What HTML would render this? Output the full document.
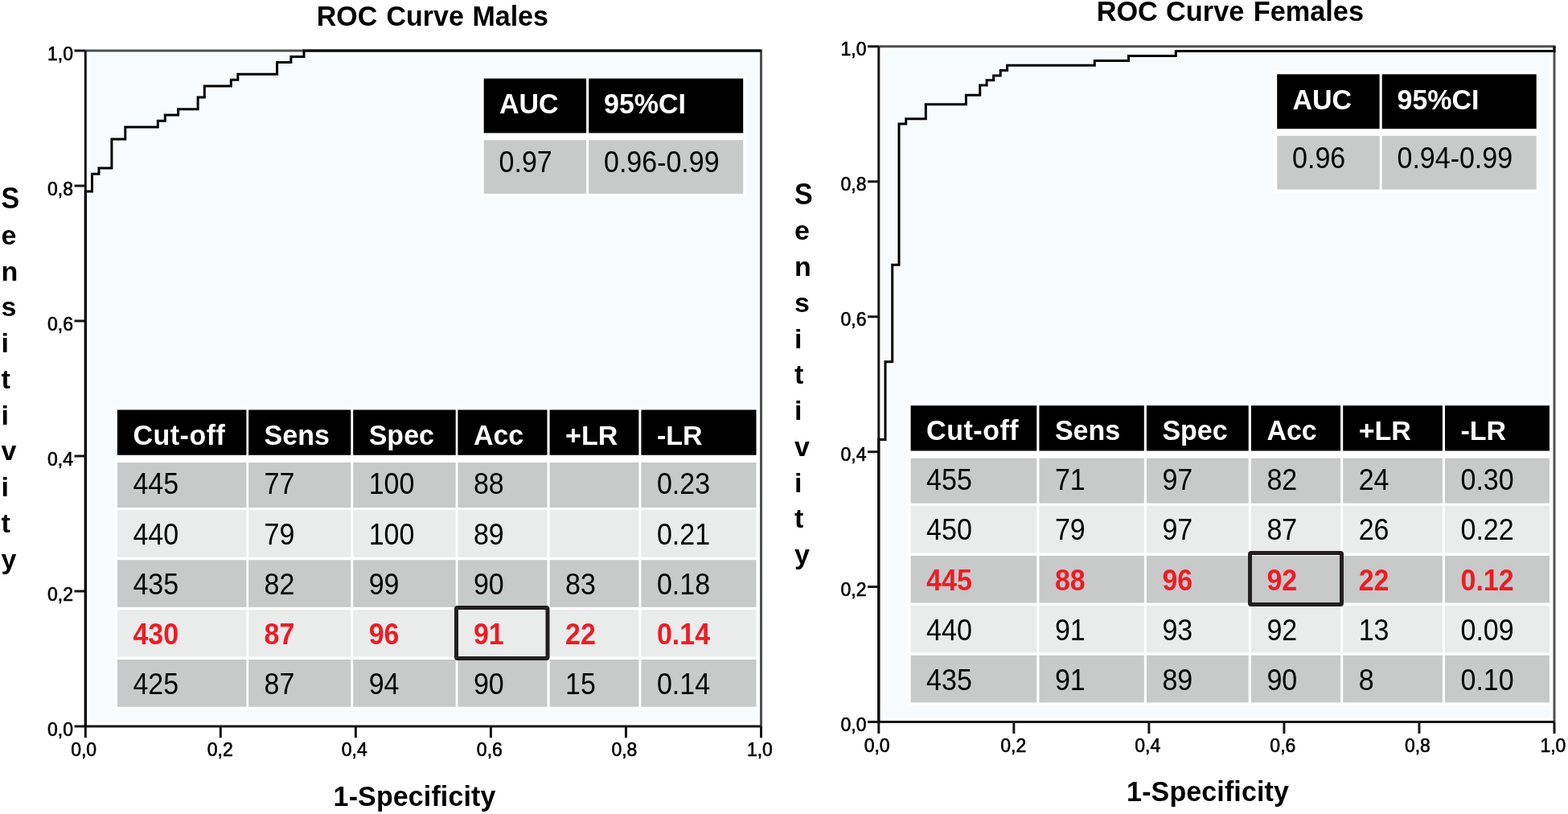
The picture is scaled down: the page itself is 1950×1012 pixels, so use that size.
<!DOCTYPE html>
<html><head><meta charset="utf-8"><title>ROC Curves</title>
<style>
html,body{margin:0;padding:0;background:#fff;width:1950px;height:1012px;overflow:hidden}
svg{display:block}
text{font-family:"Liberation Sans", Arial, sans-serif}
.tk{font-size:23px;fill:#000;stroke:#000;stroke-width:0.6px}
.hb{font-size:34px;font-weight:bold;fill:#fff}
.tb{font-size:34px;fill:#000}
.tr{font-size:34px;font-weight:bold;fill:#ed1c24}
.ti{font-size:34px;font-weight:bold;fill:#000}
</style></head><body>
<svg width="1950" height="1012" viewBox="0 0 1950 1012">
<rect width="1950" height="1012" fill="#fff"/>
<g>
<rect x="112" y="68" width="829" height="829.5" fill="#f8fbfe"/>
<path d="M106.3 63.0H946.5V902.9" fill="none" stroke="#4e5050" stroke-width="3"/>
<path d="M106.3 63.0V902.9H946.5" fill="none" stroke="#161616" stroke-width="3"/>
<path d="M92.5 902.90H106.3 M106.30 902.9V917.2 M92.5 734.92H106.3 M274.34 902.9V917.2 M92.5 566.94H106.3 M442.38 902.9V917.2 M92.5 398.96H106.3 M610.42 902.9V917.2 M92.5 230.98H106.3 M778.46 902.9V917.2 M92.5 63.00H106.3 M946.50 902.9V917.2" stroke="#161616" stroke-width="3" fill="none"/>
<text transform="matrix(1 0 0 1.08 91.00 914.80)" class="tk" text-anchor="end">0,0</text>
<text transform="matrix(1 0 0 1.08 104.10 940.20)" class="tk" text-anchor="middle">0,0</text>
<text transform="matrix(1 0 0 1.08 91.00 746.82)" class="tk" text-anchor="end">0,2</text>
<text transform="matrix(1 0 0 1.08 273.74 940.20)" class="tk" text-anchor="middle">0,2</text>
<text transform="matrix(1 0 0 1.08 91.00 578.84)" class="tk" text-anchor="end">0,4</text>
<text transform="matrix(1 0 0 1.08 440.78 940.20)" class="tk" text-anchor="middle">0,4</text>
<text transform="matrix(1 0 0 1.08 91.00 410.86)" class="tk" text-anchor="end">0,6</text>
<text transform="matrix(1 0 0 1.08 608.82 940.20)" class="tk" text-anchor="middle">0,6</text>
<text transform="matrix(1 0 0 1.08 91.00 242.88)" class="tk" text-anchor="end">0,8</text>
<text transform="matrix(1 0 0 1.08 776.36 940.20)" class="tk" text-anchor="middle">0,8</text>
<text transform="matrix(1 0 0 1.08 91.00 74.90)" class="tk" text-anchor="end">1,0</text>
<text transform="matrix(1 0 0 1.08 944.90 940.20)" class="tk" text-anchor="middle">1,0</text>
<path d="M106.30 902.70 L106.30 238.00 L114.50 238.00 L114.50 216.30 L123.00 216.30 L123.00 209.00 L138.90 209.00 L138.90 173.00 L155.80 173.00 L155.80 158.00 L196.30 158.00 L196.30 150.30 L205.30 150.30 L205.30 143.10 L221.60 143.10 L221.60 135.80 L246.10 135.80 L246.10 121.00 L254.30 121.00 L254.30 106.90 L287.30 106.90 L287.30 99.20 L295.80 99.20 L295.80 92.30 L344.60 92.30 L344.60 77.50 L361.90 77.50 L361.90 70.40 L378.00 70.40 L378.00 63.00 L946.50 63.00" fill="none" stroke="#000" stroke-width="3" stroke-linejoin="miter"/>
<rect x="598.1" y="94" width="329.4" height="150.8" fill="#fff"/>
<rect x="601.7" y="97.6" width="127.4" height="67.8" fill="#000"/>
<rect x="732.2" y="97.6" width="192" height="67.8" fill="#000"/>
<rect x="601.7" y="174.2" width="127.4" height="66.6" fill="#c8c9c9"/>
<rect x="732.2" y="174.2" width="192" height="66.6" fill="#c8c9c9"/>
<text transform="matrix(1 0 0 1.05 621.00 140.80)" class="hb">AUC</text>
<text transform="matrix(1 0 0 1.05 751.00 140.80)" class="hb">95%CI</text>
<text transform="matrix(1 0 0 1.065 620.60 214.00)" class="tb">0.97</text>
<text transform="matrix(1 0 0 1.065 751.00 214.00)" class="tb">0.96-0.99</text>
<rect x="142.8" y="506.4" width="800.9" height="375.3" fill="#fff"/>
<rect x="145.9" y="509.5" width="160.50" height="56.30" fill="#000"/>
<rect x="309.1" y="509.5" width="127.20" height="56.30" fill="#000"/>
<rect x="439.2" y="509.5" width="127.50" height="56.30" fill="#000"/>
<rect x="569.4" y="509.5" width="111.10" height="56.30" fill="#000"/>
<rect x="683.6" y="509.5" width="110.80" height="56.30" fill="#000"/>
<rect x="797.4" y="509.5" width="143.10" height="56.30" fill="#000"/>
<rect x="145.9" y="575" width="160.50" height="56.00" fill="#c8c9c9"/>
<rect x="309.1" y="575" width="127.20" height="56.00" fill="#c8c9c9"/>
<rect x="439.2" y="575" width="127.50" height="56.00" fill="#c8c9c9"/>
<rect x="569.4" y="575" width="111.10" height="56.00" fill="#c8c9c9"/>
<rect x="683.6" y="575" width="110.80" height="56.00" fill="#c8c9c9"/>
<rect x="797.4" y="575" width="143.10" height="56.00" fill="#c8c9c9"/>
<rect x="145.9" y="634" width="160.50" height="58.80" fill="#eaebeb"/>
<rect x="309.1" y="634" width="127.20" height="58.80" fill="#eaebeb"/>
<rect x="439.2" y="634" width="127.50" height="58.80" fill="#eaebeb"/>
<rect x="569.4" y="634" width="111.10" height="58.80" fill="#eaebeb"/>
<rect x="683.6" y="634" width="110.80" height="58.80" fill="#eaebeb"/>
<rect x="797.4" y="634" width="143.10" height="58.80" fill="#eaebeb"/>
<rect x="145.9" y="696.2" width="160.50" height="58.60" fill="#c8c9c9"/>
<rect x="309.1" y="696.2" width="127.20" height="58.60" fill="#c8c9c9"/>
<rect x="439.2" y="696.2" width="127.50" height="58.60" fill="#c8c9c9"/>
<rect x="569.4" y="696.2" width="111.10" height="58.60" fill="#c8c9c9"/>
<rect x="683.6" y="696.2" width="110.80" height="58.60" fill="#c8c9c9"/>
<rect x="797.4" y="696.2" width="143.10" height="58.60" fill="#c8c9c9"/>
<rect x="145.9" y="758.2" width="160.50" height="58.40" fill="#eaebeb"/>
<rect x="309.1" y="758.2" width="127.20" height="58.40" fill="#eaebeb"/>
<rect x="439.2" y="758.2" width="127.50" height="58.40" fill="#eaebeb"/>
<rect x="569.4" y="758.2" width="111.10" height="58.40" fill="#eaebeb"/>
<rect x="683.6" y="758.2" width="110.80" height="58.40" fill="#eaebeb"/>
<rect x="797.4" y="758.2" width="143.10" height="58.40" fill="#eaebeb"/>
<rect x="145.9" y="820" width="160.50" height="58.70" fill="#c8c9c9"/>
<rect x="309.1" y="820" width="127.20" height="58.70" fill="#c8c9c9"/>
<rect x="439.2" y="820" width="127.50" height="58.70" fill="#c8c9c9"/>
<rect x="569.4" y="820" width="111.10" height="58.70" fill="#c8c9c9"/>
<rect x="683.6" y="820" width="110.80" height="58.70" fill="#c8c9c9"/>
<rect x="797.4" y="820" width="143.10" height="58.70" fill="#c8c9c9"/>
<text transform="matrix(1 0 0 1.04 165.40 552.60)" class="hb" textLength="114.5" lengthAdjust="spacing">Cut-off</text>
<text transform="matrix(1 0 0 1.04 328.60 552.60)" class="hb">Sens</text>
<text transform="matrix(1 0 0 1.04 458.70 552.60)" class="hb">Spec</text>
<text transform="matrix(1 0 0 1.04 588.90 552.60)" class="hb">Acc</text>
<text x="703.10" y="552.60" class="hb">+LR</text>
<text x="816.90" y="552.60" class="hb">-LR</text>
<text transform="matrix(1 0 0 1.08 165.40 614.30)" class="tb">445</text>
<text transform="matrix(1 0 0 1.08 328.60 614.30)" class="tb">77</text>
<text transform="matrix(1 0 0 1.08 458.70 614.30)" class="tb">100</text>
<text transform="matrix(1 0 0 1.08 588.90 614.30)" class="tb">88</text>
<text transform="matrix(1 0 0 1.08 816.90 614.30)" class="tb">0.23</text>
<text transform="matrix(1 0 0 1.08 165.40 676.70)" class="tb">440</text>
<text transform="matrix(1 0 0 1.08 328.60 676.70)" class="tb">79</text>
<text transform="matrix(1 0 0 1.08 458.70 676.70)" class="tb">100</text>
<text transform="matrix(1 0 0 1.08 588.90 676.70)" class="tb">89</text>
<text transform="matrix(1 0 0 1.08 816.90 676.70)" class="tb">0.21</text>
<text transform="matrix(1 0 0 1.08 165.40 738.90)" class="tb">435</text>
<text transform="matrix(1 0 0 1.08 328.60 738.90)" class="tb">82</text>
<text transform="matrix(1 0 0 1.08 458.70 738.90)" class="tb">99</text>
<text transform="matrix(1 0 0 1.08 588.90 738.90)" class="tb">90</text>
<text transform="matrix(1 0 0 1.08 703.10 738.90)" class="tb">83</text>
<text transform="matrix(1 0 0 1.08 816.90 738.90)" class="tb">0.18</text>
<text transform="matrix(1 0 0 1.08 165.40 801.00)" class="tr">430</text>
<text transform="matrix(1 0 0 1.08 328.60 801.00)" class="tr">87</text>
<text transform="matrix(1 0 0 1.08 458.70 801.00)" class="tr">96</text>
<text transform="matrix(1 0 0 1.08 588.90 801.00)" class="tr">91</text>
<text transform="matrix(1 0 0 1.08 703.10 801.00)" class="tr">22</text>
<text transform="matrix(1 0 0 1.08 816.90 801.00)" class="tr">0.14</text>
<text transform="matrix(1 0 0 1.08 165.40 863.20)" class="tb">425</text>
<text transform="matrix(1 0 0 1.08 328.60 863.20)" class="tb">87</text>
<text transform="matrix(1 0 0 1.08 458.70 863.20)" class="tb">94</text>
<text transform="matrix(1 0 0 1.08 588.90 863.20)" class="tb">90</text>
<text transform="matrix(1 0 0 1.08 703.10 863.20)" class="tb">15</text>
<text transform="matrix(1 0 0 1.08 816.90 863.20)" class="tb">0.14</text>
<rect x="567.5" y="755.5" width="113.5" height="63" rx="1.5" fill="none" stroke="#231f20" stroke-width="5"/>
<text transform="matrix(1 0 0 1.03 393.80 32.40)" class="ti" style="font-size:34px">ROC<tspan dx="1.7"> Curve</tspan><tspan dx="1.2"> Males</tspan></text>
<text transform="matrix(1 0 0 1.05 414.60 1001.50)" class="ti" textLength="201.8" lengthAdjust="spacing">1-Specificity</text>
<text transform="matrix(1 0 0 1.1 1.50 259.00)" class="ti">S</text>
<text x="1.50" y="303.75" class="ti">e</text>
<text x="1.50" y="348.50" class="ti">n</text>
<text x="1.50" y="393.25" class="ti">s</text>
<text x="1.50" y="438.00" class="ti">i</text>
<text x="1.50" y="482.75" class="ti">t</text>
<text x="1.50" y="527.50" class="ti">i</text>
<text x="1.50" y="572.25" class="ti">v</text>
<text x="1.50" y="617.00" class="ti">i</text>
<text x="1.50" y="661.75" class="ti">t</text>
<text x="1.50" y="706.50" class="ti">y</text>
</g>
<g transform="translate(986.5,-5.3)">
<rect x="112" y="68" width="829" height="829.5" fill="#f8fbfe"/>
<path d="M106.3 63.0H946.5V902.9" fill="none" stroke="#4e5050" stroke-width="3"/>
<path d="M106.3 63.0V902.9H946.5" fill="none" stroke="#161616" stroke-width="3"/>
<path d="M92.5 902.90H106.3 M106.30 902.9V917.2 M92.5 734.92H106.3 M274.34 902.9V917.2 M92.5 566.94H106.3 M442.38 902.9V917.2 M92.5 398.96H106.3 M610.42 902.9V917.2 M92.5 230.98H106.3 M778.46 902.9V917.2 M92.5 63.00H106.3 M946.50 902.9V917.2" stroke="#161616" stroke-width="3" fill="none"/>
<text transform="matrix(1 0 0 1.08 91.00 914.10)" class="tk" text-anchor="end">0,0</text>
<text transform="matrix(1 0 0 1.08 104.10 940.20)" class="tk" text-anchor="middle">0,0</text>
<text transform="matrix(1 0 0 1.08 91.00 746.12)" class="tk" text-anchor="end">0,2</text>
<text transform="matrix(1 0 0 1.08 273.74 940.20)" class="tk" text-anchor="middle">0,2</text>
<text transform="matrix(1 0 0 1.08 91.00 578.14)" class="tk" text-anchor="end">0,4</text>
<text transform="matrix(1 0 0 1.08 440.78 940.20)" class="tk" text-anchor="middle">0,4</text>
<text transform="matrix(1 0 0 1.08 91.00 410.16)" class="tk" text-anchor="end">0,6</text>
<text transform="matrix(1 0 0 1.08 608.82 940.20)" class="tk" text-anchor="middle">0,6</text>
<text transform="matrix(1 0 0 1.08 91.00 242.18)" class="tk" text-anchor="end">0,8</text>
<text transform="matrix(1 0 0 1.08 776.36 940.20)" class="tk" text-anchor="middle">0,8</text>
<text transform="matrix(1 0 0 1.08 91.00 74.20)" class="tk" text-anchor="end">1,0</text>
<text transform="matrix(1 0 0 1.08 944.90 940.20)" class="tk" text-anchor="middle">1,0</text>
<path d="M106.30 902.60 L106.30 551.70 L114.50 551.70 L114.50 455.10 L123.20 455.10 L123.20 334.50 L131.50 334.50 L131.50 159.30 L140.20 159.30 L140.20 153.10 L164.80 153.10 L164.80 135.00 L214.90 135.00 L214.90 123.60 L232.20 123.60 L232.20 111.20 L240.60 111.20 L240.60 105.10 L249.10 105.10 L249.10 99.20 L257.70 99.20 L257.70 92.80 L266.10 92.80 L266.10 86.50 L374.80 86.50 L374.80 80.80 L417.00 80.80 L417.00 74.70 L475.80 74.70 L475.80 68.90 L946.50 68.90 L946.50 62.80" fill="none" stroke="#000" stroke-width="3" stroke-linejoin="miter"/>
<rect x="598.1" y="94" width="329.4" height="150.8" fill="#fff"/>
<rect x="601.7" y="97.6" width="127.4" height="67.8" fill="#000"/>
<rect x="732.2" y="97.6" width="192" height="67.8" fill="#000"/>
<rect x="601.7" y="174.2" width="127.4" height="66.6" fill="#c8c9c9"/>
<rect x="732.2" y="174.2" width="192" height="66.6" fill="#c8c9c9"/>
<text transform="matrix(1 0 0 1.05 621.00 140.80)" class="hb">AUC</text>
<text transform="matrix(1 0 0 1.05 751.00 140.80)" class="hb">95%CI</text>
<text transform="matrix(1 0 0 1.065 620.60 214.00)" class="tb">0.96</text>
<text transform="matrix(1 0 0 1.065 751.00 214.00)" class="tb">0.94-0.99</text>
<rect x="142.8" y="506.4" width="800.9" height="375.3" fill="#fff"/>
<rect x="146.1" y="509.5" width="156.70" height="56.30" fill="#000"/>
<rect x="305.9" y="509.5" width="130.40" height="56.30" fill="#000"/>
<rect x="439.4" y="509.5" width="126.80" height="56.30" fill="#000"/>
<rect x="569.4" y="509.5" width="111.20" height="56.30" fill="#000"/>
<rect x="683.7" y="509.5" width="123.70" height="56.30" fill="#000"/>
<rect x="810.5" y="509.5" width="130.00" height="56.30" fill="#000"/>
<rect x="146.1" y="575" width="156.70" height="56.00" fill="#c8c9c9"/>
<rect x="305.9" y="575" width="130.40" height="56.00" fill="#c8c9c9"/>
<rect x="439.4" y="575" width="126.80" height="56.00" fill="#c8c9c9"/>
<rect x="569.4" y="575" width="111.20" height="56.00" fill="#c8c9c9"/>
<rect x="683.7" y="575" width="123.70" height="56.00" fill="#c8c9c9"/>
<rect x="810.5" y="575" width="130.00" height="56.00" fill="#c8c9c9"/>
<rect x="146.1" y="634" width="156.70" height="58.80" fill="#eaebeb"/>
<rect x="305.9" y="634" width="130.40" height="58.80" fill="#eaebeb"/>
<rect x="439.4" y="634" width="126.80" height="58.80" fill="#eaebeb"/>
<rect x="569.4" y="634" width="111.20" height="58.80" fill="#eaebeb"/>
<rect x="683.7" y="634" width="123.70" height="58.80" fill="#eaebeb"/>
<rect x="810.5" y="634" width="130.00" height="58.80" fill="#eaebeb"/>
<rect x="146.1" y="696.2" width="156.70" height="58.60" fill="#c8c9c9"/>
<rect x="305.9" y="696.2" width="130.40" height="58.60" fill="#c8c9c9"/>
<rect x="439.4" y="696.2" width="126.80" height="58.60" fill="#c8c9c9"/>
<rect x="569.4" y="696.2" width="111.20" height="58.60" fill="#c8c9c9"/>
<rect x="683.7" y="696.2" width="123.70" height="58.60" fill="#c8c9c9"/>
<rect x="810.5" y="696.2" width="130.00" height="58.60" fill="#c8c9c9"/>
<rect x="146.1" y="758.2" width="156.70" height="58.40" fill="#eaebeb"/>
<rect x="305.9" y="758.2" width="130.40" height="58.40" fill="#eaebeb"/>
<rect x="439.4" y="758.2" width="126.80" height="58.40" fill="#eaebeb"/>
<rect x="569.4" y="758.2" width="111.20" height="58.40" fill="#eaebeb"/>
<rect x="683.7" y="758.2" width="123.70" height="58.40" fill="#eaebeb"/>
<rect x="810.5" y="758.2" width="130.00" height="58.40" fill="#eaebeb"/>
<rect x="146.1" y="820" width="156.70" height="58.70" fill="#c8c9c9"/>
<rect x="305.9" y="820" width="130.40" height="58.70" fill="#c8c9c9"/>
<rect x="439.4" y="820" width="126.80" height="58.70" fill="#c8c9c9"/>
<rect x="569.4" y="820" width="111.20" height="58.70" fill="#c8c9c9"/>
<rect x="683.7" y="820" width="123.70" height="58.70" fill="#c8c9c9"/>
<rect x="810.5" y="820" width="130.00" height="58.70" fill="#c8c9c9"/>
<text transform="matrix(1 0 0 1.04 165.60 552.60)" class="hb" textLength="114.5" lengthAdjust="spacing">Cut-off</text>
<text transform="matrix(1 0 0 1.04 325.40 552.60)" class="hb">Sens</text>
<text transform="matrix(1 0 0 1.04 458.90 552.60)" class="hb">Spec</text>
<text transform="matrix(1 0 0 1.04 588.90 552.60)" class="hb">Acc</text>
<text x="703.20" y="552.60" class="hb">+LR</text>
<text x="830.00" y="552.60" class="hb">-LR</text>
<text transform="matrix(1 0 0 1.08 165.60 614.30)" class="tb">455</text>
<text transform="matrix(1 0 0 1.08 325.40 614.30)" class="tb">71</text>
<text transform="matrix(1 0 0 1.08 458.90 614.30)" class="tb">97</text>
<text transform="matrix(1 0 0 1.08 588.90 614.30)" class="tb">82</text>
<text transform="matrix(1 0 0 1.08 703.20 614.30)" class="tb">24</text>
<text transform="matrix(1 0 0 1.08 830.00 614.30)" class="tb">0.30</text>
<text transform="matrix(1 0 0 1.08 165.60 676.70)" class="tb">450</text>
<text transform="matrix(1 0 0 1.08 325.40 676.70)" class="tb">79</text>
<text transform="matrix(1 0 0 1.08 458.90 676.70)" class="tb">97</text>
<text transform="matrix(1 0 0 1.08 588.90 676.70)" class="tb">87</text>
<text transform="matrix(1 0 0 1.08 703.20 676.70)" class="tb">26</text>
<text transform="matrix(1 0 0 1.08 830.00 676.70)" class="tb">0.22</text>
<text transform="matrix(1 0 0 1.08 165.60 738.90)" class="tr">445</text>
<text transform="matrix(1 0 0 1.08 325.40 738.90)" class="tr">88</text>
<text transform="matrix(1 0 0 1.08 458.90 738.90)" class="tr">96</text>
<text transform="matrix(1 0 0 1.08 588.90 738.90)" class="tr">92</text>
<text transform="matrix(1 0 0 1.08 703.20 738.90)" class="tr">22</text>
<text transform="matrix(1 0 0 1.08 830.00 738.90)" class="tr">0.12</text>
<text transform="matrix(1 0 0 1.08 165.60 801.00)" class="tb">440</text>
<text transform="matrix(1 0 0 1.08 325.40 801.00)" class="tb">91</text>
<text transform="matrix(1 0 0 1.08 458.90 801.00)" class="tb">93</text>
<text transform="matrix(1 0 0 1.08 588.90 801.00)" class="tb">92</text>
<text transform="matrix(1 0 0 1.08 703.20 801.00)" class="tb">13</text>
<text transform="matrix(1 0 0 1.08 830.00 801.00)" class="tb">0.09</text>
<text transform="matrix(1 0 0 1.08 165.60 863.20)" class="tb">435</text>
<text transform="matrix(1 0 0 1.08 325.40 863.20)" class="tb">91</text>
<text transform="matrix(1 0 0 1.08 458.90 863.20)" class="tb">89</text>
<text transform="matrix(1 0 0 1.08 588.90 863.20)" class="tb">90</text>
<text transform="matrix(1 0 0 1.08 703.20 863.20)" class="tb">8</text>
<text transform="matrix(1 0 0 1.08 830.00 863.20)" class="tb">0.10</text>
<rect x="568.0" y="692.8" width="114.0" height="64.0" rx="1.5" fill="none" stroke="#231f20" stroke-width="5"/>
<text transform="matrix(1 0 0 1.03 377.20 31.60)" class="ti" style="font-size:34.3px">ROC<tspan dx="0.7"> Curve</tspan><tspan dx="2"> Females</tspan></text>
<text transform="matrix(1 0 0 1.05 414.60 1001.50)" class="ti" textLength="201.8" lengthAdjust="spacing">1-Specificity</text>
<text transform="matrix(1 0 0 1.1 1.50 259.00)" class="ti">S</text>
<text x="1.50" y="303.75" class="ti">e</text>
<text x="1.50" y="348.50" class="ti">n</text>
<text x="1.50" y="393.25" class="ti">s</text>
<text x="1.50" y="438.00" class="ti">i</text>
<text x="1.50" y="482.75" class="ti">t</text>
<text x="1.50" y="527.50" class="ti">i</text>
<text x="1.50" y="572.25" class="ti">v</text>
<text x="1.50" y="617.00" class="ti">i</text>
<text x="1.50" y="661.75" class="ti">t</text>
<text x="1.50" y="706.50" class="ti">y</text>
</g>
</svg>
</body></html>
